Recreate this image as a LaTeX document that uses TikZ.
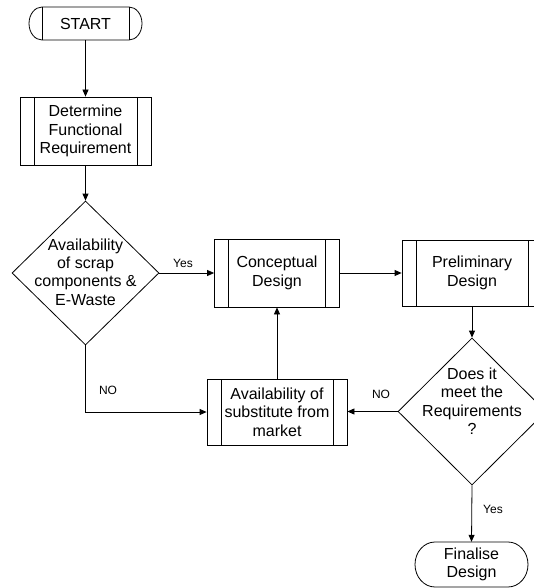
\documentclass[tikz,border=0pt]{standalone}
\usepackage{fontspec}
\setmainfont{Liberation Sans}
\usetikzlibrary{shapes.geometric,arrows.meta}
\begin{document}
\begin{tikzpicture}[x=1pt,y=-1pt,
  line/.style={draw=black, line width=0.8pt},
  arr/.style={line, -{Triangle[length=7pt,width=6pt]}},
  txt/.style={align=center, inner sep=0, font=\fontsize{16}{18.4}\selectfont},
  lbl/.style={inner sep=0, font=\fontsize{12}{14}\selectfont},
  hold/.style={rectangle, inner sep=0},
  predef/.style={rectangle, line, inner sep=0, align=center,
    font=\fontsize{16}{18.4}\selectfont,
    path picture={\draw[line]
      ([xshift=14pt]path picture bounding box.north west) -- ([xshift=14pt]path picture bounding box.south west)
      ([xshift=-14pt]path picture bounding box.north east) -- ([xshift=-14pt]path picture bounding box.south east);}},
  dia/.style={diamond, line, inner sep=0}
]
\useasboundingbox (0,0) rectangle (534,588);
\clip (0,0) rectangle (534,588);

% START terminator
\node[hold, minimum width=113pt, minimum height=33pt] (start) at (85.5,23.5) {};
\draw[line] (42,7) -- (129,7) arc[start angle=-90, end angle=90, x radius=13, y radius=16.5]
  -- (42,40) arc[start angle=90, end angle=270, x radius=13, y radius=16.5] -- cycle;
\draw[line] (42,7) -- (42,40) (129,7) -- (129,40);
\node[txt] (starttxt) at (85.5,23.5) {START};

% Process boxes
\node[predef, minimum width=131pt, minimum height=68pt] (det) at (85.5,131) {Determine\\Functional\\Requirement};
\node[predef, minimum width=125pt, minimum height=68pt] (con) at (277,273) {Conceptual\\Design};
\node[predef, minimum width=140pt, minimum height=66pt] (pre) at (472,273) {Preliminary\\Design};
\node[predef, minimum width=140pt, minimum height=66pt] (sub) at (277,412) {Availability of\\substitute from\\market};

% Decisions
\node[dia, minimum width=147pt, minimum height=144pt] (d1) at (85.5,273) {};
\node[txt] (d1txt) at (85.5,272) {Availability\\of scrap\\components \&\\E-Waste};
\node[dia, minimum width=148pt, minimum height=147pt] (d2) at (472,411.5) {};
\node[txt] (d2txt) at (472,401) {Does it\\meet the\\Requirements\\?};

% Finalise terminator
\node[hold, minimum width=113pt, minimum height=45pt] (fin) at (471.5,564.5) {};
\draw[line] (435,542) -- (508,542) arc[start angle=-90, end angle=90, x radius=20, y radius=22.5]
  -- (435,587) arc[start angle=90, end angle=270, x radius=20, y radius=22.5] -- cycle;
\node[txt] (fintxt) at (471.5,564.5) {Finalise\\Design};

% Connectors
\draw[arr] (start.south) -- (det.north);
\draw[arr] (det.south) -- (d1.north);
\draw[arr] (d1.east) -- (con.west);
\draw[arr] (con.east) -- (pre.west);
\draw[arr] (pre.south) -- (d2.north);
\draw[arr] (d1.south) |- (sub.west);
\draw[arr] (d2.west) -- (d2.west -| sub.east);
\draw[arr] (sub.north) -- (con.south);
\draw[arr] (d2.south) -- (fin.north);

% Labels
\node[lbl] (yes1) at (183,263) {Yes};
\node[lbl] (no1) at (108,390) {NO};
\node[lbl] (no2) at (381,394) {NO};
\node[lbl] (yes2) at (493,509) {Yes};
\end{tikzpicture}
\end{document}
